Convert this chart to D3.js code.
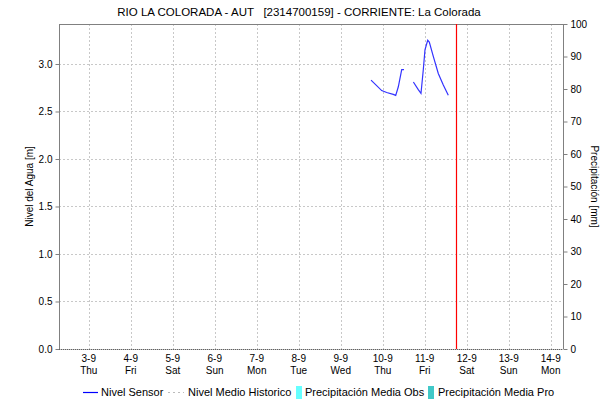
<!DOCTYPE html>
<html><head><meta charset="utf-8">
<script src="https://cdn.jsdelivr.net/npm/d3@7"></script>
<style>body{margin:0;background:#fff}text{font-family:"Liberation Sans",Arial,sans-serif;fill:#000;white-space:pre}</style>
</head><body><svg id="c" width="615" height="405"></svg>
<script>
const title = "RIO LA COLORADA - AUT   [2314700159] - CORRIENTE: La Colorada";
const sensorTimes = ["2020-09-09T17:18","2020-09-09T23:24","2020-09-10T02:15","2020-09-10T06:00","2020-09-10T07:24","2020-09-10T08:54","2020-09-10T10:50","2020-09-10T12:09",null,
  "2020-09-10T17:30","2020-09-10T20:18","2020-09-10T21:51","2020-09-10T23:10","2020-09-11T00:08","2020-09-11T01:41","2020-09-11T02:36","2020-09-11T04:53","2020-09-11T07:44","2020-09-11T10:36","2020-09-11T13:27"];
const sensorValues = [2.83,2.72,2.70,2.68,2.67,2.76,2.94,2.94,null,
  2.81,2.73,2.69,2.94,3.15,3.25,3.23,3.08,2.90,2.78,2.67];
const dayTicks = ["2020-09-03","2020-09-04","2020-09-05","2020-09-06","2020-09-07","2020-09-08","2020-09-09","2020-09-10","2020-09-11","2020-09-12","2020-09-13","2020-09-14"];
const dayLabels = ["3-9","4-9","5-9","6-9","7-9","8-9","9-9","10-9","11-9","12-9","13-9","14-9"];
const weekdayLabels = ["Thu","Fri","Sat","Sun","Mon","Tue","Wed","Thu","Fri","Sat","Sun","Mon"];
const levelTicks = [0,0.5,1.0,1.5,2.0,2.5,3.0];
const precipTicks = [0,10,20,30,40,50,60,70,80,90,100];
const timeStart = "2020-09-02T07:00", timeEnd = "2020-09-14T07:00";
const nowTime = "2020-09-11T17:50";
const legendItems = ["Nivel Sensor","Nivel Medio Historico","Precipitación Media Obs","Precipitación Media Pro"];

const svg = d3.select("#c");
const L=59,R=563,T=24,B=349;
const x = d3.scaleTime().domain([new Date(timeStart),new Date(timeEnd)]).range([L,R]);
const y = d3.scaleLinear().domain([0,3.421]).range([B,T]);
const y2 = d3.scaleLinear().domain([0,100]).range([B,T]);
const grid="#c8c8c8";

svg.append("g").selectAll("line").data(dayTicks).join("line")
  .attr("x1",d=>Math.round(x(new Date(d)))+0.5).attr("x2",d=>Math.round(x(new Date(d)))+0.5)
  .attr("y1",T).attr("y2",B).attr("stroke",grid).attr("stroke-dasharray","2,2");
svg.append("g").selectAll("line").data(levelTicks.slice(1)).join("line")
  .attr("x1",L).attr("x2",R).attr("y1",d=>Math.round(y(d))+0.5).attr("y2",d=>Math.round(y(d))+0.5)
  .attr("stroke",grid).attr("stroke-dasharray","2,2");

svg.append("line").attr("x1",L).attr("x2",R).attr("y1",T+0.5).attr("y2",T+0.5).attr("stroke","#808080");
const ga = svg.append("g").attr("transform",`translate(${L+0.5},0)`)
  .call(d3.axisLeft(y).tickValues(levelTicks).tickFormat(d3.format(".1f")).tickSize(4).tickPadding(3));
ga.select(".domain").attr("stroke","#808080").attr("d",`M0,${T}V${B}`);
ga.selectAll(".tick line").attr("stroke","#808080");
ga.selectAll("text").attr("font-size",10).style("font-family","Liberation Sans, Arial");
const gb = svg.append("g").attr("transform",`translate(${R+0.5},0)`)
  .call(d3.axisRight(y2).tickValues(precipTicks).tickSize(4).tickPadding(3));
gb.select(".domain").attr("stroke","#808080").attr("d",`M0,${T}V${B}`);
gb.selectAll(".tick line").attr("stroke","#808080");
gb.selectAll("text").attr("font-size",10).style("font-family","Liberation Sans, Arial");
svg.append("line").attr("x1",L).attr("x2",R).attr("y1",B+0.5).attr("y2",B+0.5).attr("stroke","#c0c0c0");
svg.append("line").attr("x1",L).attr("x2",R).attr("y1",B+0.5).attr("y2",B+0.5).attr("stroke","#606060").attr("stroke-dasharray","1,1");

const xl = svg.append("g").selectAll("g").data(dayTicks).join("g")
  .attr("transform",d=>`translate(${x(new Date(d))},0)`);
xl.append("text").attr("y",362).attr("text-anchor","middle").attr("font-size",10).text((d,i)=>dayLabels[i]);
xl.append("text").attr("y",374).attr("text-anchor","middle").attr("font-size",10).text((d,i)=>weekdayLabels[i]);

const pts = sensorTimes.map((t,i)=>({t:t?new Date(t):null,v:sensorValues[i]}));
svg.append("path").datum(pts).attr("fill","none").attr("stroke","#3333ff").attr("stroke-width",1.2)
  .attr("d",d3.line().defined(d=>d.t&&d.v!=null).x(d=>x(d.t)).y(d=>y(d.v)));

const nx = Math.round(x(new Date(nowTime)))+0.5;
svg.append("line").attr("x1",nx).attr("x2",nx).attr("y1",T).attr("y2",B).attr("stroke","#ff0000").attr("stroke-width",1.2);

svg.append("text").attr("x",299).attr("y",16).attr("text-anchor","middle").attr("font-size",11.5).attr("xml:space","preserve").text(title);
svg.append("text").attr("transform",`translate(33,${(T+B)/2}) rotate(-90)`).attr("text-anchor","middle").attr("font-size",10).text("Nivel del Agua [m]");
svg.append("text").attr("transform",`translate(591,${(T+B)/2}) rotate(90)`).attr("text-anchor","middle").attr("font-size",10).text("Precipitación [mm]");

const ly=392;
svg.append("line").attr("x1",83).attr("x2",98).attr("y1",ly+0.5).attr("y2",ly+0.5).attr("stroke","#0000ff").attr("stroke-width",1.2);
svg.append("text").attr("x",101).attr("y",ly+4).attr("font-size",11).text(legendItems[0]);
svg.append("line").attr("x1",168).attr("x2",184).attr("y1",ly+0.5).attr("y2",ly+0.5).attr("stroke","#bbbbbb").attr("stroke-dasharray","2,3");
svg.append("text").attr("x",188).attr("y",ly+4).attr("font-size",11).text(legendItems[1]);
svg.append("rect").attr("x",296).attr("y",ly-6).attr("width",6).attr("height",13).attr("fill","#66ffff");
svg.append("text").attr("x",305).attr("y",ly+4).attr("font-size",11).text(legendItems[2]);
svg.append("rect").attr("x",428).attr("y",ly-6).attr("width",6).attr("height",13).attr("fill","#40c8c8");
svg.append("text").attr("x",438).attr("y",ly+4).attr("font-size",11).text(legendItems[3]);
</script></body></html>
